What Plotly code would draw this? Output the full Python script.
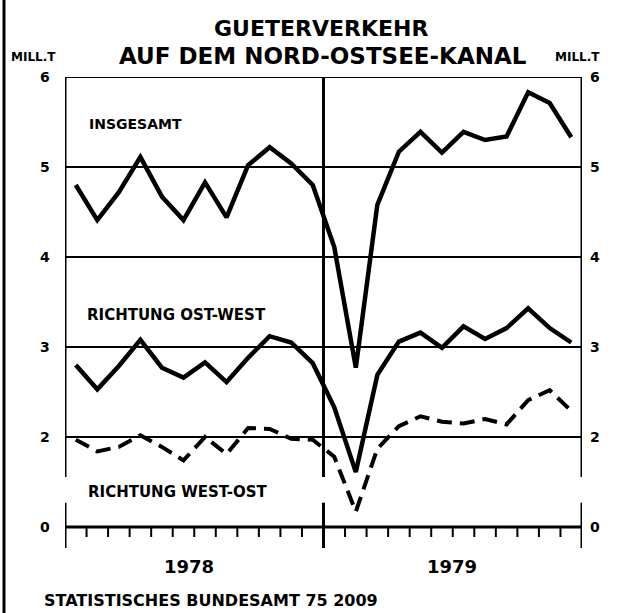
import plotly.graph_objects as go

months = list(range(24))  # Jan 1978 .. Dec 1979
insgesamt = [4.80, 4.41, 4.72, 5.11, 4.67, 4.41, 4.83, 4.44, 5.02, 5.22, 5.04, 4.80,
             4.11, 2.77, 4.58, 5.17, 5.39, 5.16, 5.39, 5.30, 5.34, 5.83, 5.71, 5.33]
ost_west = [2.80, 2.53, 2.79, 3.08, 2.77, 2.66, 2.83, 2.61, 2.88, 3.12, 3.05, 2.82,
            2.33, 1.61, 2.69, 3.06, 3.16, 2.99, 3.23, 3.09, 3.21, 3.43, 3.21, 3.05]
west_ost = [1.97, 1.84, 1.89, 2.02, 1.89, 1.74, 2.00, 1.81, 2.10, 2.09, 1.98, 1.97,
            1.78, 1.17, 1.87, 2.12, 2.23, 2.17, 2.15, 2.20, 2.14, 2.41, 2.52, 2.29]
years = ["1978", "1979"]
tick_vals = [1, 2, 3, 4, 5, 6]
tick_text = ["0", "2", "3", "4", "5", "6"]

W, H = 623, 613
L, R, T, B = 65, 41, 77, 65
PW, PH = W - L - R, H - T - B
YMAX = 6.0
YMIN = YMAX - PH / 90.0

FONT = "DejaVu Sans"
xs = [m + 0.5 for m in months]

fig = go.Figure()
fig.add_trace(go.Scatter(x=xs, y=insgesamt, mode="lines",
                         line=dict(color="black", width=4.5), showlegend=False))
fig.add_trace(go.Scatter(x=xs, y=ost_west, mode="lines",
                         line=dict(color="black", width=4.5), showlegend=False))
fig.add_trace(go.Scatter(x=xs, y=west_ost, mode="lines",
                         line=dict(color="black", width=4, dash="15px,8px"), showlegend=False))

shapes = []
for v in [2, 3, 4, 5, 6]:
    shapes.append(dict(type="line", xref="x", yref="y", x0=0, x1=24, y0=v, y1=v,
                       line=dict(color="black", width=2)))
shapes.append(dict(type="line", xref="x", yref="y", x0=0, x1=24, y0=1, y1=1,
                   line=dict(color="black", width=3)))
for xv in [0, 12, 24]:
    shapes.append(dict(type="line", xref="x", yref="y", x0=xv, x1=xv, y0=6, y1=1.556,
                       line=dict(color="black", width=3)))
    shapes.append(dict(type="line", xref="x", yref="y", x0=xv, x1=xv, y0=1.27, y1=YMIN,
                       line=dict(color="black", width=3)))
for m in range(1, 24):
    if m == 12:
        continue
    shapes.append(dict(type="line", xref="x", yref="y", x0=m, x1=m, y0=1, y1=0.889,
                       line=dict(color="black", width=2)))
shapes.append(dict(type="line", xref="paper", yref="paper",
                   x0=(4 - L) / PW, x1=(4 - L) / PW, y0=-B / PH, y1=(PH + T) / PH,
                   line=dict(color="black", width=3)))

def px_x(px):
    return (px - L) / PW

def px_y(py):
    return (H - B - py) / PH

ann = []
for v, t in zip(tick_vals, tick_text):
    for xp in (45, 595):
        ann.append(dict(text=t, xref="paper", yref="y", x=px_x(xp), y=v, showarrow=False,
                        xanchor="center", yanchor="middle",
                        font=dict(family=FONT, size=14, color="black", weight="bold")))

def txt(s, x, y, size, anchor="center"):
    ann.append(dict(text=s, xref="paper", yref="paper", x=px_x(x), y=px_y(y),
                    showarrow=False, xanchor=anchor, yanchor="middle",
                    font=dict(family=FONT, size=size, color="black", weight="bold")))

txt("GUETERVERKEHR", 321, 28, 22)
txt("AUF DEM NORD-OSTSEE-KANAL", 323, 56, 23)
txt("MILL.T", 33, 57, 12)
txt("MILL.T", 577, 57, 12)
txt("INSGESAMT", 87, 124, 14, "left")
txt("RICHTUNG OST-WEST", 85, 315, 15, "left")
txt("RICHTUNG WEST-OST", 86, 492, 15, "left")
txt(years[0], 189, 566, 18)
txt(years[1], 452, 566, 18)
txt("STATISTISCHES BUNDESAMT 75 2009", 42, 600, 16, "left")

fig.update_layout(
    width=W, height=H,
    margin=dict(l=L, r=R, t=T, b=B, pad=0),
    paper_bgcolor="white", plot_bgcolor="white",
    xaxis=dict(range=[0, 24], showgrid=False, zeroline=False, showticklabels=False,
               ticks="", showline=False, fixedrange=True),
    yaxis=dict(range=[YMIN, YMAX], showgrid=False, zeroline=False, showticklabels=False,
               ticks="", showline=False, fixedrange=True),
    shapes=shapes,
    annotations=ann,
    showlegend=False,
)

fig.write_html("out.html", config={"displayModeBar": False},
               post_script="document.body.style.margin='0';document.body.style.overflow='hidden';")
